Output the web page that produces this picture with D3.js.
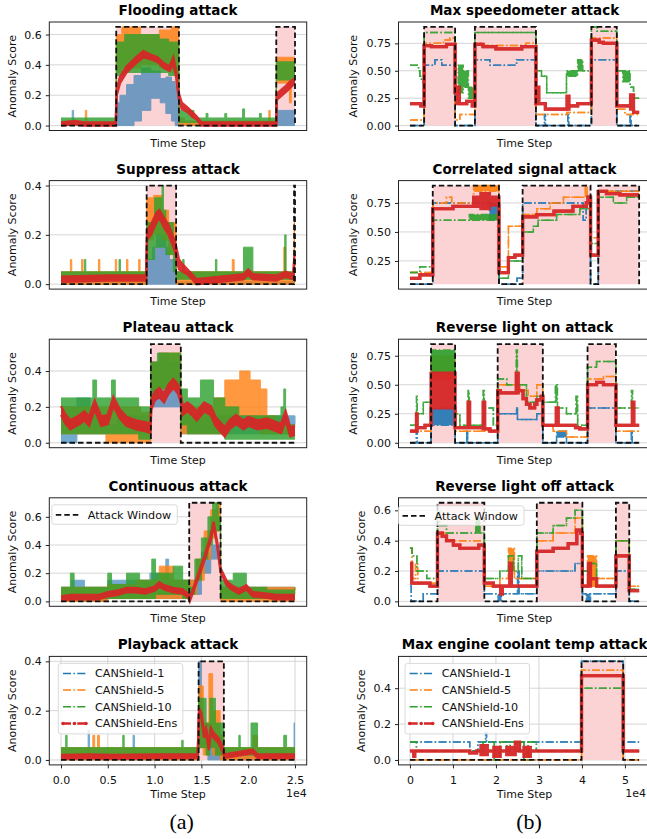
<!DOCTYPE html>
<html><head><meta charset="utf-8">
<script src="https://cdn.jsdelivr.net/npm/d3@7"></script>
<style>body{margin:0;background:#fff}</style></head>
<body><svg id="c" width="647" height="839"></svg>
<script>
// ---------- DATA (time in thousands of steps; each point [t, low, high] or [t, value]) ----------
const seriesNames = ["CANShield-1","CANShield-5","CANShield-10","CANShield-Ens"];
const leftXTicks = [0,5,10,15,20,25];
const leftXTickLabels = ["0.0","0.5","1.0","1.5","2.0","2.5"];
const rightXTicks = [0,10,20,30,40,50];
const rightXTickLabels = ["0","1","2","3","4","5"];

// Flooding
const floodWindows = [[5.9,12.6],[23.0,25.0]];
const floodCS1 = [[0,0,0.01],[1.2,0,0.1],[1.35,0,0.01],[5.9,0,0.15],[6.3,0,0.2],[7.0,0,0.27],[7.8,0.03,0.33],[8.6,0.1,0.38],[9.6,0.18,0.36],[10.6,0.15,0.31],[11.2,0.08,0.32],[11.8,0.03,0.29],[12.2,0,0.26],[12.6,0,0.01],[23.0,0,0.1],[25,0,0.1]];
const floodCS5 = [[0,0,0.02],[2.6,0,0.1],[2.75,0,0.02],[5.9,0.35,0.6],[6.5,0.38,0.65],[8.5,0.4,0.6],[10.5,0.38,0.63],[11.8,0.35,0.65],[12.6,0,0.05],[13.2,0,0.03],[22.2,0,0.1],[22.35,0,0.03],[23.0,0.28,0.45],[24.4,0.15,0.45],[24.6,0.3,0.45],[25,0.3,0.45]];
const floodCS10 = [[0,0.01,0.05],[5.9,0.33,0.55],[6.8,0.35,0.6],[10.5,0.35,0.57],[11.5,0.33,0.55],[12.6,0.02,0.1],[14.2,0.02,0.05],[15.5,0.02,0.08],[15.7,0.02,0.05],[17.5,0.02,0.08],[17.7,0.02,0.05],[19.4,0.02,0.11],[19.6,0.02,0.05],[21.2,0.02,0.08],[21.4,0.02,0.05],[23.0,0.3,0.42],[25,0.3,0.42]];
const floodEns = [[0,0,0.02],[1.5,0.01,0.03],[2.5,0,0.02],[5.85,0,0.02],[5.95,0.2,0.24],[6.3,0.28,0.32],[7,0.35,0.39],[8,0.41,0.45],[8.8,0.45,0.49],[9.5,0.44,0.47],[10.3,0.42,0.45],[11,0.38,0.41],[11.6,0.36,0.39],[12,0.41,0.45],[12.3,0.32,0.36],[12.6,0.17,0.21],[12.9,0.11,0.15],[13.5,0.09,0.12],[14,0.06,0.09],[14.5,0.04,0.06],[15,0,0.02],[23,0,0.02],[23.05,0.17,0.21],[24,0.22,0.26],[24.5,0.25,0.29],[25,0.28,0.31]];

// Suppress
const suppWindows = [[9.15,12.3],[24.9,25.0]];
const suppCS1 = [[0,0,0.01],[9.15,0,0.1],[9.8,0,0.15],[10.2,0,0.2],[11.2,0,0.15],[11.6,0,0.1],[12.3,0,0.01],[25,0,0.01]];
const suppCS5 = [[0,0,0.05],[1.0,0,0.1],[1.15,0,0.05],[2.2,0,0.1],[2.35,0,0.05],[4.0,0,0.1],[4.15,0,0.05],[5.8,0,0.1],[5.95,0,0.05],[7.0,0,0.1],[7.15,0,0.05],[8.3,0,0.1],[8.45,0,0.05],[9.15,0.18,0.35],[9.9,0.2,0.36],[10.8,0.18,0.3],[11.5,0.12,0.25],[12.3,0,0.05],[18.3,0,0.1],[18.5,0,0.05],[23.8,0,0.15],[24.0,0,0.05],[24.9,0,0.25],[25,0,0.25]];
const suppCS10 = [[0,0.02,0.05],[2.5,0.02,0.1],[2.65,0.02,0.05],[6.2,0.02,0.1],[6.35,0.02,0.05],[9.15,0.1,0.25],[10.0,0.15,0.35],[10.8,0.15,0.4],[10.95,0.15,0.3],[11.2,0.12,0.25],[12.0,0.05,0.15],[12.3,0.02,0.05],[13.0,0.02,0.1],[13.15,0.02,0.05],[16.5,0.02,0.1],[16.65,0.02,0.05],[19.5,0.02,0.15],[20.5,0.02,0.05],[23.9,0.02,0.2],[24.05,0.02,0.05],[25,0.02,0.05]];
const suppEns = [[0,0.01,0.03],[5,0.015,0.035],[9.1,0.015,0.035],[9.2,0.18,0.22],[9.6,0.2,0.24],[10.2,0.25,0.29],[10.5,0.27,0.3],[11,0.23,0.27],[11.5,0.2,0.24],[12.2,0.13,0.17],[12.6,0.06,0.1],[13,0.05,0.08],[13.5,0.04,0.06],[14,0.02,0.04],[14.5,0,0.02],[17,0.01,0.03],[19.5,0.02,0.04],[20,0.04,0.06],[20.5,0.02,0.04],[23,0.015,0.035],[24,0.03,0.05],[24.8,0.02,0.04],[24.95,0.09,0.12],[25,0.1,0.12]];

// Plateau
const platWindows = [[9.6,12.8]];
const platCS1 = [[0,0,0.2],[1.7,0.05,0.25],[3.1,0.05,0.15],[5,0.05,0.1],[6,0.05,0.15],[9.6,0.2,0.45],[10.5,0.2,0.5],[11.5,0.2,0.45],[12.8,0.05,0.15],[25,0.05,0.1]];
const platCS5 = [[0,0.05,0.2],[3.5,0.05,0.2],[4.8,0,0.2],[8.5,0,0.17],[9.6,0.3,0.45],[10.5,0.3,0.5],[12.8,0.05,0.2],[16.3,0.05,0.25],[17.5,0.1,0.35],[19.1,0.15,0.4],[20.2,0.1,0.35],[21.3,0.05,0.3],[22,0.05,0.15],[23,0.05,0.1],[25,0.05,0.1]];
const platCS10 = [[0,0.05,0.25],[3.4,0.05,0.35],[3.8,0.05,0.25],[5.4,0.05,0.35],[5.8,0.05,0.25],[8.3,0.02,0.2],[9.6,0.25,0.45],[10.3,0.3,0.5],[12.8,0.1,0.3],[13.5,0.05,0.25],[14.9,0.05,0.35],[16.3,0.05,0.25],[17.5,0.02,0.2],[19,0.02,0.15],[23.5,0.02,0.2],[23.8,0.02,0.3],[24,0.02,0.1],[25,0.02,0.1]];
const platEns = [[0,0.155,0.205],[0.5,0.105,0.155],[1,0.075,0.125],[2,0.105,0.155],[2.5,0.125,0.175],[3,0.095,0.145],[3.6,0.185,0.235],[4.3,0.095,0.145],[5,0.105,0.155],[5.6,0.205,0.255],[6.3,0.135,0.185],[7,0.095,0.145],[8,0.075,0.125],[9,0.065,0.115],[9.55,0.055,0.105],[9.65,0.185,0.235],[10,0.235,0.285],[10.5,0.255,0.305],[11,0.225,0.275],[11.5,0.275,0.325],[12,0.305,0.355],[12.5,0.275,0.325],[12.8,0.225,0.275],[13,0.155,0.205],[13.5,0.175,0.225],[14,0.155,0.205],[14.5,0.125,0.175],[15.3,0.175,0.225],[16,0.155,0.205],[16.5,0.095,0.145],[17.5,0.035,0.085],[18,0.075,0.125],[18.7,0.105,0.155],[19.5,0.075,0.125],[20,0.095,0.145],[21,0.075,0.125],[22,0.085,0.135],[23,0.065,0.115],[23.5,0.055,0.105],[24,0.125,0.175],[24.5,0.035,0.085],[25,0.045,0.095]];

// Continuous
const contWindows = [[13.7,17.05]];
const contCS1 = [[0,0,0.1],[1.1,0,0.15],[2.5,0,0.1],[5,0.02,0.15],[7,0.02,0.15],[9.5,0.02,0.2],[11.2,0.02,0.3],[11.5,0.02,0.15],[13.7,0.05,0.15],[15,0.2,0.35],[16,0.3,0.4],[16.6,0.3,0.4],[17.05,0.02,0.1],[25,0.02,0.1]];
const contCS5 = [[0,0,0.1],[5,0.02,0.12],[8,0.02,0.15],[10.5,0.02,0.25],[12,0.02,0.15],[13.7,0.05,0.15],[14.5,0.15,0.3],[15.3,0.3,0.5],[16,0.45,0.65],[16.6,0.5,0.7],[17.05,0,0.1],[20,0,0.1],[25,0,0.05]];
const contCS10 = [[0,0.02,0.1],[1.0,0.02,0.2],[1.4,0.02,0.1],[5.0,0.02,0.2],[5.4,0.02,0.12],[7,0.02,0.2],[8.4,0.02,0.15],[9.7,0.02,0.3],[10.1,0.05,0.2],[12,0.05,0.25],[13.0,0.02,0.15],[13.7,0.05,0.1],[14.3,0.15,0.3],[15,0.3,0.45],[15.7,0.4,0.6],[16.2,0.5,0.7],[16.8,0.5,0.6],[17.05,0.02,0.15],[18.4,0.02,0.2],[19.8,0.02,0.1],[22,0.02,0.08],[25,0.02,0.1]];
const contEns = [[0,0.005,0.035],[1,0.015,0.045],[4,0.015,0.045],[5,0.035,0.065],[6,0.045,0.075],[7,0.065,0.095],[8,0.065,0.095],[9,0.055,0.085],[10,0.075,0.105],[10.5,0.105,0.135],[11,0.085,0.115],[12,0.065,0.095],[13,0.055,0.085],[13.6,0.025,0.055],[13.75,0,0.02],[14.5,0.135,0.165],[15.3,0.285,0.315],[16,0.435,0.465],[16.3,0.535,0.565],[16.7,0.385,0.415],[17.05,0.205,0.235],[17.7,0.115,0.145],[18.2,0.085,0.115],[19,0.055,0.085],[19.8,0.085,0.115],[20.5,0.035,0.065],[22,0.025,0.055],[23,0.015,0.045],[25,0.015,0.045]];

// Playback
const playWindows = [[14.7,17.4]];
const playCS1 = [[0,0,0.02],[2.9,0,0.12],[3.05,0,0.02],[7.7,0,0.1],[7.85,0,0.02],[14.7,0.05,0.4],[15.0,0.05,0.12],[15.7,0,0.1],[17.4,0,0.02],[24.9,0,0.15],[25,0,0.15]];
const playCS5 = [[0,0,0.05],[3.4,0,0.1],[3.6,0,0.05],[3.9,0,0.1],[4.1,0,0.05],[14.7,0.05,0.3],[15.2,0.02,0.15],[15.8,0.05,0.35],[16.2,0.02,0.2],[17.0,0,0.1],[17.4,0,0.05],[20.5,0,0.1],[21,0,0.05],[25,0,0.05]];
const playCS10 = [[0,0.02,0.05],[0.5,0.02,0.1],[0.65,0.02,0.05],[6.6,0.02,0.1],[6.75,0.02,0.05],[12.9,0.02,0.08],[13.05,0.02,0.05],[14.7,0.05,0.25],[15.5,0.02,0.15],[15.9,0.05,0.25],[16.5,0.02,0.15],[17.4,0.02,0.05],[19.0,0.02,0.1],[19.15,0.02,0.05],[20.3,0.02,0.15],[21.0,0.02,0.05],[23.8,0.02,0.1],[24.1,0.02,0.05],[25,0.02,0.05]];
const playEns = [[0,0.005,0.02],[3,0.008,0.022],[6,0.005,0.02],[10,0.008,0.022],[14.6,0.008,0.022],[14.75,0.19,0.21],[15,0.17,0.19],[15.3,0.09,0.11],[15.5,0.11,0.13],[15.8,0.04,0.06],[16,0.11,0.13],[16.3,0.09,0.11],[16.8,0.07,0.09],[17.2,0.04,0.06],[17.5,0.008,0.022],[20.5,0.028,0.042],[21,0.008,0.022],[25,0.008,0.022]];

// Max speedometer
const speedWindows = [[3.3,10.5],[15.1,29.3],[42.2,48.1]];
const speedCS1 = [[0,0],[3.3,0.55],[5.8,0.6],[7.4,0.55],[10.5,0],[15.1,0.6],[18.6,0.55],[24.8,0.6],[29.3,0],[31.3,0.1],[31.5,0],[36.7,0.1],[36.9,0],[42.2,0.6],[48.1,0],[51.2,0.1],[51.4,0],[53.3,0]];
const speedCS5 = [[0,0.05],[3.3,0.75],[7.8,0.78],[9.3,0.8],[10.5,0.05],[11.6,0.1],[15.1,0.75],[16.5,0.73],[27,0.75],[29.3,0.1],[36.5,0.12],[42.2,0.8],[48.1,0.15],[50,0.1],[53.3,0.1]];
const speedCS10 = [[0,0.55],[2.0,0.5],[2.3,0.45],[2.7,0.4],[3.3,0.85],[10.5,0.5],[11.2,0.3,0.55],[12.4,0.35,0.5],[13.6,0.25,0.35],[15.1,0.85],[29.3,0.5],[30.6,0.45],[31.8,0.3],[36.4,0.45,0.5],[39,0.5,0.6],[40.2,0.5],[42.2,0.9],[43.5,0.86],[48.1,0.5],[49.5,0.4,0.5],[51.2,0.35],[52,0.25],[53.3,0.25]];
const speedEns = [[0,0.2],[2.5,0.18],[3.3,0.73],[5,0.72],[8.5,0.74],[10.5,0.3],[10.9,0.2,0.35],[11.5,0.2],[13.2,0.22],[14.5,0.18],[15.1,0.74],[17,0.72],[20,0.7],[26,0.72],[29.3,0.2],[29.6,0.2,0.35],[30,0.2],[31.5,0.15],[36.5,0.15,0.27],[37,0.18],[39,0.2],[42.2,0.78],[44,0.76],[45,0.75],[48.1,0.18],[51.3,0.15,0.28],[52,0.12],[53.3,0.12]];

// Correlated signal
const corrWindows = [[5.3,20.7],[26.2,42.0],[43.8,53.3]];
const corrCS1 = [[0,0.05],[5.3,0.75],[18.5,0.6,0.75],[20.7,0.05],[24.9,0.1],[26.2,0.75],[40.3,0.6],[41,0.75],[42,0.05],[43.8,0.85],[53.3,0.85]];
const corrCS5 = [[0,0.15],[5.3,0.75],[8.5,0.8],[9.7,0.75],[14.8,0.85,0.9],[20.7,0.2],[22.9,0.55],[26.2,0.65],[29.5,0.7],[32.6,0.75],[35.7,0.8],[40.8,0.9],[41.2,0.8],[42,0.45],[43.8,0.85],[53.3,0.85]];
const corrCS10 = [[0,0.15],[2.3,0.2],[5.3,0.6],[13.8,0.6,0.65],[20.7,0.1],[22.9,0.25],[26.2,0.5],[28.7,0.55],[29.8,0.6],[34.1,0.65],[39.5,0.7],[42,0.4],[43.8,0.8],[47.3,0.75],[50.4,0.8],[53.3,0.8]];
const corrEns = [[0,0.1],[2.3,0.13],[5.3,0.7],[10,0.72],[14.8,0.72,0.8],[16.5,0.7,0.83],[18.5,0.73,0.8],[20.7,0.15],[22.9,0.28],[24.4,0.3],[26.2,0.63],[29.5,0.65],[33.5,0.68],[37.9,0.72],[41,0.75],[41.4,0.8],[42,0.3],[43.8,0.85],[45.7,0.83],[48.8,0.82],[53.3,0.82]];

// Reverse light on
const ronWindows = [[4.9,10.5],[20.4,30.9],[41.3,47.9]];
const ronCS1 = [[0,0],[1.5,0.1],[1.7,0],[4.9,0.15,0.3],[10.5,0],[13.2,0.1],[13.4,0],[20.4,0.25],[24.8,0.3],[25.0,0.2],[29.5,0.25],[30.9,0],[34.1,0.05,0.1],[36.4,0],[41.3,0.3],[47.9,0],[51.5,0.1],[51.7,0],[53.3,0]];
const ronCS5 = [[0,0.1],[4.9,0.55,0.75],[10.5,0.1],[20.4,0.5],[25.6,0.45],[27.5,0.4],[29.5,0.5],[30.9,0.15],[33.3,0.1],[36.4,0.05],[41.3,0.55],[45,0.57],[47.9,0.1],[53.3,0.1]];
const ronCS10 = [[0,0.15],[1.5,0.25,0.4],[1.7,0.25],[3.1,0.35],[4.9,0.6,0.8],[10.5,0.25],[11.6,0.15],[13.5,0.15,0.45],[13.8,0.15],[17.0,0.15,0.45],[17.3,0.3],[19.4,0.15],[20.4,0.55],[22.5,0.5],[24.7,0.5,0.8],[25.0,0.5],[27.1,0.35],[29.5,0.4],[30.9,0.35],[33.8,0.35,0.5],[34.3,0.3],[36.4,0.25],[38.6,0.25,0.4],[39,0.15],[41.3,0.65],[43.4,0.7],[47.9,0.3],[51.5,0.3,0.45],[51.8,0.3],[53.3,0.3]];
const ronEns = [[0,0.1],[1.5,0.1,0.25],[1.7,0.13],[3.5,0.15],[4.9,0.3,0.6],[10.5,0.13],[13.5,0.13,0.35],[13.9,0.13],[17,0.12,0.35],[17.4,0.12],[18.6,0.1],[20.4,0.45],[21,0.43],[24.7,0.43,0.6],[25.2,0.45],[26.3,0.38],[27.1,0.33],[27.9,0.3],[29,0.33],[29.5,0.37],[30.5,0.4],[30.9,0.15],[34,0.15,0.3],[34.5,0.15],[38.5,0.13],[39.5,0.12],[41.3,0.5],[43.4,0.52],[45,0.5],[47.9,0.15],[51.7,0.15,0.35],[52.1,0.15],[53.3,0.15]];

// Reverse light off
const roffWindows = [[6.4,17.3],[29.5,40.1],[47.9,51.0]];
const roffCS1 = [[0,0.1],[0.3,0],[3.1,0.05],[6.4,0.2],[17.3,0.05],[20.5,0,0.05],[21.3,0.05],[25.0,0.05,0.2],[25.4,0.05],[29.5,0.2],[38.4,0.25],[40.1,0.05],[41.0,0,0.05],[42,0.05],[47.9,0.2],[51.0,0],[53.3,0]];
const roffCS5 = [[0,0.35],[0.5,0.15],[1.3,0.25],[1.8,0.12],[6.4,0.45],[8.5,0.4],[17.3,0.1],[20.9,0.15],[22.9,0.2,0.35],[24.3,0.15],[29.5,0.4],[33.3,0.45],[38.4,0.55],[40.1,0.1],[41.3,0.1,0.3],[43.4,0.15],[47.9,0.4],[51.0,0.1],[53.3,0.1]];
const roffCS10 = [[0,0.35],[0.5,0.3],[1.6,0.2],[3.9,0.15],[6.4,0.6],[6.9,0.5],[8.5,0.45],[15.3,0.45,0.55],[16.3,0.45],[17.3,0.15],[20.9,0.2],[22.9,0.3],[24.1,0.2],[25.2,0.3],[26.0,0.15],[29.5,0.45],[33.3,0.5],[36.4,0.55],[38.4,0.6],[40.1,0.2],[41.9,0.25],[43.4,0.1],[47.9,0.4],[51.0,0.08],[53.3,0.08]];
const roffEns = [[0,0.25],[0.4,0.12],[2.5,0.12],[4.65,0.1],[6.4,0.45],[7.5,0.43],[8.5,0.4],[10.1,0.37],[11.6,0.35],[16,0.37],[17.3,0.12],[19.4,0.1],[21.1,0.05],[21.5,0.1],[23.2,0.1,0.25],[23.6,0.1],[29.5,0.33],[33.3,0.35],[36.8,0.38],[38.8,0.47],[39.7,0.45],[40.1,0.1],[41.5,0.1,0.25],[42,0.15],[43.4,0.1],[47.9,0.3],[51.0,0.07],[53.3,0.07]];

// Max engine coolant temp
const coolWindows = [[39.9,49.6]];
const coolCS1 = [[0,0.1],[13.9,0.05],[15.8,0.1],[17.6,0.15],[17.8,0.1],[39.9,0.55],[49.6,0.1],[53.3,0.1]];
const coolCS5 = [[0,0],[39.9,0.5],[49.6,0],[53.3,0]];
const coolCS10 = [[0,0.1],[1.5,0.05],[13.9,0.05],[17.0,0.1],[19.4,0.1],[19.6,0],[21,0.1],[22.5,0.05],[23.3,0.1],[24.5,0.05],[25.5,0.1],[26.5,0],[27.5,0.1],[29.4,0.05],[39.9,0.4],[49.6,0.05],[53.3,0.05]];
const coolEns = [[0,0.05],[0.9,0.02],[1.1,0.05],[13.9,0.04],[15.5,0.05],[16.5,0.03,0.08],[18,0.05],[19.5,0.02,0.07],[21,0.05],[22.5,0.03,0.07],[24.5,0.05,0.1],[25.5,0.05],[26.5,0.02,0.07],[28,0.05],[39.9,0.47],[49.6,0.05],[53.3,0.05]];

const panels = [
  {title:"Flooding attack", col:0, row:0, windows:floodWindows, base:0, top:0.65, yTicks:[0,0.2,0.4,0.6], dec:1, series:[floodCS1,floodCS5,floodCS10,floodEns]},
  {title:"Suppress attack", col:0, row:1, windows:suppWindows, base:0, top:0.4, yTicks:[0,0.2,0.4], dec:1, series:[suppCS1,suppCS5,suppCS10,suppEns]},
  {title:"Plateau attack", col:0, row:2, windows:platWindows, base:0, top:0.55, yTicks:[0,0.2,0.4], dec:1, series:[platCS1,platCS5,platCS10,platEns]},
  {title:"Continuous attack", col:0, row:3, windows:contWindows, base:0, top:0.7, yTicks:[0,0.2,0.4,0.6], dec:1, series:[contCS1,contCS5,contCS10,contEns], legend:"attack"},
  {title:"Playback attack", col:0, row:4, windows:playWindows, base:0, top:0.4, yTicks:[0,0.2,0.4], dec:1, series:[playCS1,playCS5,playCS10,playEns], legend:"series"},
  {title:"Max speedometer attack", col:1, row:0, windows:speedWindows, base:0, top:0.9, yTicks:[0,0.25,0.5,0.75], dec:2, series:[speedCS1,speedCS5,speedCS10,speedEns]},
  {title:"Correlated signal attack", col:1, row:1, windows:corrWindows, base:0.05, top:0.9, yTicks:[0.25,0.5,0.75], dec:2, series:[corrCS1,corrCS5,corrCS10,corrEns]},
  {title:"Reverse light on attack", col:1, row:2, windows:ronWindows, base:0, top:0.85, yTicks:[0,0.25,0.5,0.75], dec:2, series:[ronCS1,ronCS5,ronCS10,ronEns]},
  {title:"Reverse light off attack", col:1, row:3, windows:roffWindows, base:0, top:0.65, yTicks:[0,0.2,0.4,0.6], dec:1, series:[roffCS1,roffCS5,roffCS10,roffEns], legend:"attack"},
  {title:"Max engine coolant temp attack", col:1, row:4, windows:coolWindows, base:0, top:0.55, yTicks:[0,0.2,0.4], dec:1, series:[coolCS1,coolCS5,coolCS10,coolEns], legend:"series"}
];

// ---------- STYLE / LAYOUT ----------
const colors = ["#1f77b4","#ff7f0e","#2ca02c","#d62728"];
const leftOpacity = [0.62, 0.8, 0.8, 0.95];
const rightOpacity = [0.9, 0.9, 0.9, 0.95];
const FONT = "DejaVu Sans, Verdana, sans-serif";
const cols = [{x0:49.3, x1:306.7, xmax:25}, {x0:398.5, x1:650.6, xmax:53.3}];
const ROW_TOP = 22, ROW_STEP = 158.6, AX_H = 108.5;
const DASHDOT = "8,2.4,1.5,2.4";

const svg = d3.select("#c");

panels.forEach((p, i) => {
  const L = cols[p.col];
  const top = ROW_TOP + ROW_STEP * p.row, bot = top + AX_H;
  const x = d3.scaleLinear().domain([-0.05 * L.xmax, 1.05 * L.xmax]).range([L.x0, L.x1]);
  const span = p.top - p.base;
  const y = d3.scaleLinear().domain([p.base - 0.05 * span, p.top + 0.05 * span]).range([bot, top]);
  const isBottom = p.row === 4;
  const xTicks = p.col === 0 ? leftXTicks : rightXTicks;
  const xLabels = p.col === 0 ? leftXTickLabels : rightXTickLabels;

  const g = svg.append("g");
  const clipId = "clip" + i;
  svg.append("clipPath").attr("id", clipId).append("rect")
    .attr("x", L.x0).attr("y", top).attr("width", L.x1 - L.x0).attr("height", AX_H);

  // grid
  g.append("g").selectAll("line").data(p.yTicks).join("line")
    .attr("x1", L.x0).attr("x2", L.x1).attr("y1", d => y(d)).attr("y2", d => y(d))
    .attr("stroke", "#cccccc").attr("stroke-width", 0.8);
  if (isBottom) {
    g.append("g").selectAll("line").data(xTicks).join("line")
      .attr("x1", d => x(d)).attr("x2", d => x(d)).attr("y1", top).attr("y2", bot)
      .attr("stroke", "#cccccc").attr("stroke-width", 0.8);
  }

  const plot = g.append("g").attr("clip-path", `url(#${clipId})`);

  // attack window step data
  const att = [[0, p.base]];
  p.windows.forEach(([s, e]) => { att.push([s, p.top]); att.push([e, p.base]); });
  att.push([L.xmax, p.base]);

  plot.append("path").datum(att)
    .attr("d", d3.area().curve(d3.curveStepAfter).x(d => x(d[0])).y0(y(p.base)).y1(d => y(d[1])))
    .attr("fill", "#fbd3d5");

  // series
  p.series.forEach((arr, k) => {
    const pts = arr.map(d => ({t: d[0], lo: d[1], hi: d.length > 2 ? d[2] : d[1]}));
    const isEns = k === 3;
    const curve = (isEns && p.col === 0) ? d3.curveLinear : d3.curveStepAfter;
    const sg = plot.append("g").attr("opacity", (p.col === 0 ? leftOpacity : rightOpacity)[k]);
    sg.append("path").datum(pts)
      .attr("d", d3.area().curve(curve).x(d => x(d.t)).y0(d => y(d.lo)).y1(d => y(d.hi)))
      .attr("fill", colors[k]);
    const lw = isEns ? (p.col === 0 ? 2.4 : 3.2) : (p.col === 0 ? 1 : 1.5);
    ["lo", "hi"].forEach(key => {
      sg.append("path").datum(pts)
        .attr("d", d3.line().curve(curve).x(d => x(d.t)).y(d => y(d[key])))
        .attr("fill", "none").attr("stroke", colors[k]).attr("stroke-width", lw)
        .attr("stroke-dasharray", (!isEns && p.col === 1) ? DASHDOT : null);
    });
  });

  // attack window dashed outline
  plot.append("path").datum(att)
    .attr("d", d3.line().curve(d3.curveStepAfter).x(d => x(d[0])).y(d => y(d[1])))
    .attr("fill", "none").attr("stroke", "#111").attr("stroke-width", 1.8)
    .attr("stroke-dasharray", "5.5,3");

  // frame
  g.append("rect").attr("x", L.x0).attr("y", top).attr("width", L.x1 - L.x0).attr("height", AX_H)
    .attr("fill", "none").attr("stroke", "#222").attr("stroke-width", 1);

  // y axis
  const ya = g.append("g").attr("transform", `translate(${L.x0},0)`)
    .call(d3.axisLeft(y).tickValues(p.yTicks).tickFormat(d3.format(p.dec === 2 ? ".2f" : ".1f")).tickSize(3.5).tickPadding(4));
  ya.select(".domain").remove();
  ya.selectAll("line").attr("stroke", "#222");
  ya.selectAll("text").attr("font-family", FONT).attr("font-size", 11).attr("fill", "#111");

  // x axis (bottom row only)
  if (isBottom) {
    const xa = g.append("g").attr("transform", `translate(0,${bot})`)
      .call(d3.axisBottom(x).tickValues(xTicks).tickFormat((d, j) => xLabels[j]).tickSize(3.5).tickPadding(7.5));
    xa.select(".domain").remove();
    xa.selectAll("line").attr("stroke", "#222");
    xa.selectAll("text").attr("font-family", FONT).attr("font-size", 11).attr("fill", "#111");
    g.append("text").attr("x", Math.min(L.x1, 646)).attr("y", bot + 32.5).attr("text-anchor", "end")
      .attr("font-family", FONT).attr("font-size", 11).attr("fill", "#111").text("1e4");
  }

  // labels
  const cx = (L.x0 + L.x1) / 2;
  g.append("text").attr("x", cx).attr("y", top - 7).attr("text-anchor", "middle")
    .attr("font-family", FONT).attr("font-size", 13.5).attr("font-weight", "bold").attr("fill", "#000")
    .text(p.title);
  g.append("text").attr("x", cx).attr("y", bot + (isBottom ? 33 : 16)).attr("text-anchor", "middle")
    .attr("font-family", FONT).attr("font-size", 11).attr("fill", "#111").text("Time Step");
  const lx = L.x0 - (p.dec === 2 ? 41.5 : 33.8);
  g.append("text").attr("transform", `translate(${lx},${(top + bot) / 2}) rotate(-90)`)
    .attr("text-anchor", "middle").attr("font-family", FONT).attr("font-size", 11).attr("fill", "#111")
    .text("Anomaly Score");

  // legends
  if (p.legend === "attack") {
    const bx = L.x0 + (p.col === 0 ? 2.5 : 0), by = top + (p.col === 0 ? 7 : 8);
    const lg = g.append("g");
    lg.append("rect").attr("x", bx).attr("y", by).attr("width", 125.5).attr("height", 19.5).attr("rx", 2.5)
      .attr("fill", "#fff").attr("fill-opacity", 0.8).attr("stroke", "#d0d0d0").attr("stroke-width", 0.8);
    lg.append("line").attr("x1", bx + 4).attr("x2", bx + 28.5).attr("y1", by + 10).attr("y2", by + 10)
      .attr("stroke", "#111").attr("stroke-width", 1.8).attr("stroke-dasharray", "5.5,3");
    lg.append("text").attr("x", bx + 36).attr("y", by + 10).attr("dy", "0.35em")
      .attr("font-family", FONT).attr("font-size", 11.2).attr("fill", "#111").text("Attack Window");
  }
  if (p.legend === "series") {
    const bx = L.x0 + (p.col === 0 ? 9 : 6.5), by = top + 7;
    const lg = g.append("g");
    lg.append("rect").attr("x", bx).attr("y", by).attr("width", 124.5).attr("height", 70.5).attr("rx", 2.5)
      .attr("fill", "#fff").attr("fill-opacity", 0.8).attr("stroke", "#d0d0d0").attr("stroke-width", 0.8);
    seriesNames.forEach((name, k) => {
      const ry = by + 10 + k * 16.7;
      lg.append("line").attr("x1", bx + 4.7).attr("x2", bx + 27.7).attr("y1", ry).attr("y2", ry)
        .attr("stroke", colors[k]).attr("stroke-width", k === 3 ? 2.4 : 1.5).attr("stroke-dasharray", DASHDOT);
      if (k === 3) {
        [bx + 4.7, bx + 16.2, bx + 27.7].forEach(cxm => lg.append("circle").attr("cx", cxm).attr("cy", ry).attr("r", 1.8).attr("fill", colors[3]));
      }
      lg.append("text").attr("x", bx + 36.7).attr("y", ry).attr("dy", "0.35em")
        .attr("font-family", FONT).attr("font-size", 11.2).attr("fill", "#111").text(name);
    });
  }
});

// sub-figure captions
svg.append("text").attr("x", 181.7).attr("y", 829).attr("text-anchor", "middle")
  .attr("font-family", "Liberation Serif, Times New Roman, serif").attr("font-size", 22).attr("fill", "#000").text("(a)");
svg.append("text").attr("x", 529).attr("y", 829).attr("text-anchor", "middle")
  .attr("font-family", "Liberation Serif, Times New Roman, serif").attr("font-size", 22).attr("fill", "#000").text("(b)");
</script>
</body></html>
